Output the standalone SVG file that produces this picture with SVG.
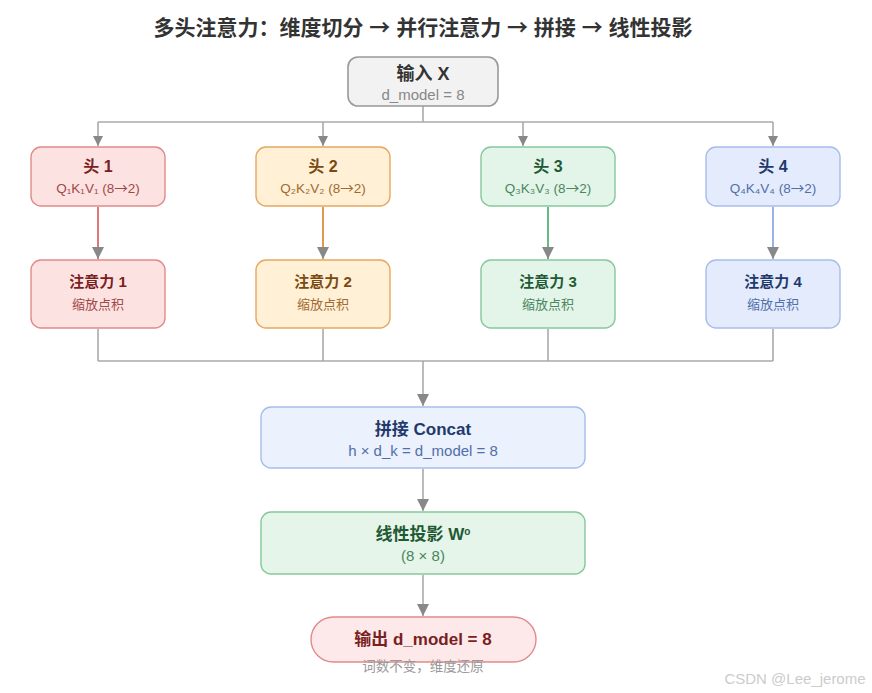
<svg xmlns="http://www.w3.org/2000/svg" width="872" height="693" viewBox="0 0 872 693">
<style>
text{font-family:"Liberation Sans","Noto Sans CJK SC",sans-serif;text-anchor:middle}
.t{font-size:17px;font-weight:bold}
.s{font-size:13.5px}
.a{font-family:"Noto Sans CJK SC",sans-serif}
.c{fill:none;stroke:#aaaaaa;stroke-width:1.6}
</style>
<defs>
<marker id="ah" viewBox="0 0 10 10" refX="10" refY="5" markerWidth="10" markerHeight="10" markerUnits="userSpaceOnUse" orient="auto">
<path d="M0,0 L10,5 L0,10 z" fill="#888888"/>
</marker>
<marker id="ahb" viewBox="0 0 10 10" refX="10" refY="5" markerWidth="14" markerHeight="12" markerUnits="userSpaceOnUse" orient="auto">
<path d="M0,0 L10,5 L0,10 z" fill="#888888"/>
</marker>
</defs>
<rect width="872" height="693" fill="#ffffff"/>
<text x="423" y="35" style="font-size:21px;font-weight:bold" fill="#333333">多头注意力：维度切分 <tspan class="a">→</tspan> 并行注意力 <tspan class="a">→</tspan> 拼接 <tspan class="a">→</tspan> 线性投影</text>

<g id="connectors">
<path class="c" d="M423,106 V122 M98,122 H773"/>
<path class="c" d="M98,122 V146" marker-end="url(#ah)"/>
<path class="c" d="M323,122 V146" marker-end="url(#ah)"/>
<path class="c" d="M523,122 V146" marker-end="url(#ah)"/>
<path class="c" d="M773,122 V146" marker-end="url(#ah)"/>
<path d="M98,207 V259" stroke="#e07878" stroke-width="2" fill="none" marker-end="url(#ahb)"/>
<path d="M323,207 V259" stroke="#e09a50" stroke-width="2" fill="none" marker-end="url(#ahb)"/>
<path d="M548,207 V259" stroke="#66bb84" stroke-width="2" fill="none" marker-end="url(#ahb)"/>
<path d="M773,207 V259" stroke="#98b2ea" stroke-width="2" fill="none" marker-end="url(#ahb)"/>
<path class="c" d="M98,329 V361 M323,329 V361 M548,329 V361 M773,329 V361 M98,361 H773"/>
<path class="c" d="M423,361 V406" marker-end="url(#ahb)"/>
<path class="c" d="M423,469 V511" marker-end="url(#ahb)"/>
<path class="c" d="M423,575 V616" marker-end="url(#ahb)"/>
</g>

<g id="input">
<rect x="348" y="57" width="150" height="49" rx="10" fill="#f2f2f2" stroke="#999999" stroke-width="1.6"/>
<text x="423" y="80" class="t" style="font-size:18px" fill="#333333">输入 X</text>
<text x="423" y="100" class="s" style="font-size:15px" fill="#888888">d_model = 8</text>
</g>

<g id="head1">
<rect x="31" y="147" width="134" height="59" rx="10" fill="#fde2e2" stroke="#e08a8a" stroke-width="1.4"/>
<text x="98" y="172" class="t" style="font-size:16px" fill="#7a1f1f">头 1</text>
<text x="98" y="193" class="s" fill="#a04848">Q₁K₁V₁ (8<tspan class="a">→</tspan>2)</text>
</g>
<g id="head2">
<rect x="256" y="147" width="134" height="59" rx="10" fill="#fff0d6" stroke="#e4a860" stroke-width="1.4"/>
<text x="323" y="172" class="t" style="font-size:16px" fill="#7a4a12">头 2</text>
<text x="323" y="193" class="s" fill="#a06a30">Q₂K₂V₂ (8<tspan class="a">→</tspan>2)</text>
</g>
<g id="head3">
<rect x="481" y="147" width="134" height="59" rx="10" fill="#e3f4e8" stroke="#86c79c" stroke-width="1.4"/>
<text x="548" y="172" class="t" style="font-size:16px" fill="#1f5a35">头 3</text>
<text x="548" y="193" class="s" fill="#4a8660">Q₃K₃V₃ (8<tspan class="a">→</tspan>2)</text>
</g>
<g id="head4">
<rect x="706" y="147" width="134" height="59" rx="10" fill="#e3ebfd" stroke="#a6bdea" stroke-width="1.4"/>
<text x="773" y="172" class="t" style="font-size:16px" fill="#1f3a6a">头 4</text>
<text x="773" y="193" class="s" fill="#5070a8">Q₄K₄V₄ (8<tspan class="a">→</tspan>2)</text>
</g>

<g id="att1">
<rect x="31" y="260" width="134" height="68" rx="10" fill="#fde2e2" stroke="#e08a8a" stroke-width="1.4"/>
<text x="98" y="287" class="t" style="font-size:15px" fill="#7a1f1f">注意力 1</text>
<text x="98" y="309" class="s" style="font-size:13px" fill="#a04848">缩放点积</text>
</g>
<g id="att2">
<rect x="256" y="260" width="134" height="68" rx="10" fill="#fff0d6" stroke="#e4a860" stroke-width="1.4"/>
<text x="323" y="287" class="t" style="font-size:15px" fill="#7a4a12">注意力 2</text>
<text x="323" y="309" class="s" style="font-size:13px" fill="#a06a30">缩放点积</text>
</g>
<g id="att3">
<rect x="481" y="260" width="134" height="68" rx="10" fill="#e3f4e8" stroke="#86c79c" stroke-width="1.4"/>
<text x="548" y="287" class="t" style="font-size:15px" fill="#1f5a35">注意力 3</text>
<text x="548" y="309" class="s" style="font-size:13px" fill="#4a8660">缩放点积</text>
</g>
<g id="att4">
<rect x="706" y="260" width="134" height="68" rx="10" fill="#e3ebfd" stroke="#a6bdea" stroke-width="1.4"/>
<text x="773" y="287" class="t" style="font-size:15px" fill="#1f3a6a">注意力 4</text>
<text x="773" y="309" class="s" style="font-size:13px" fill="#5070a8">缩放点积</text>
</g>

<g id="concat">
<rect x="261" y="407" width="324" height="61" rx="10" fill="#ebf1fd" stroke="#a6bdea" stroke-width="1.4"/>
<text x="423" y="435" class="t" fill="#1f3a6a">拼接 Concat</text>
<text x="423" y="456" class="s" style="font-size:15px" fill="#5070a8">h × d_k = d_model = 8</text>
</g>
<g id="proj">
<rect x="261" y="512" width="324" height="62" rx="10" fill="#e6f5ea" stroke="#86c79c" stroke-width="1.4"/>
<text x="423" y="540" class="t" fill="#1f5a35">线性投影 W<tspan style="font-size:10px" dy="-5">o</tspan></text>
<text x="423" y="561" class="s" style="font-size:15px" fill="#4a8660">(8 × 8)</text>
</g>
<g id="output">
<rect x="311" y="617" width="225" height="45" rx="22.5" fill="#fde9e9" stroke="#e08a8a" stroke-width="1.4"/>
<text x="423" y="645" class="t" fill="#7a1f1f">输出 d_model = 8</text>
<text x="423" y="671" class="s" style="font-size:13.5px" fill="#999999">词数不变，维度还原</text>
</g>
<text x="795" y="684" style="font-size:15px" fill="#cccccc">CSDN @Lee_jerome</text>
</svg>
